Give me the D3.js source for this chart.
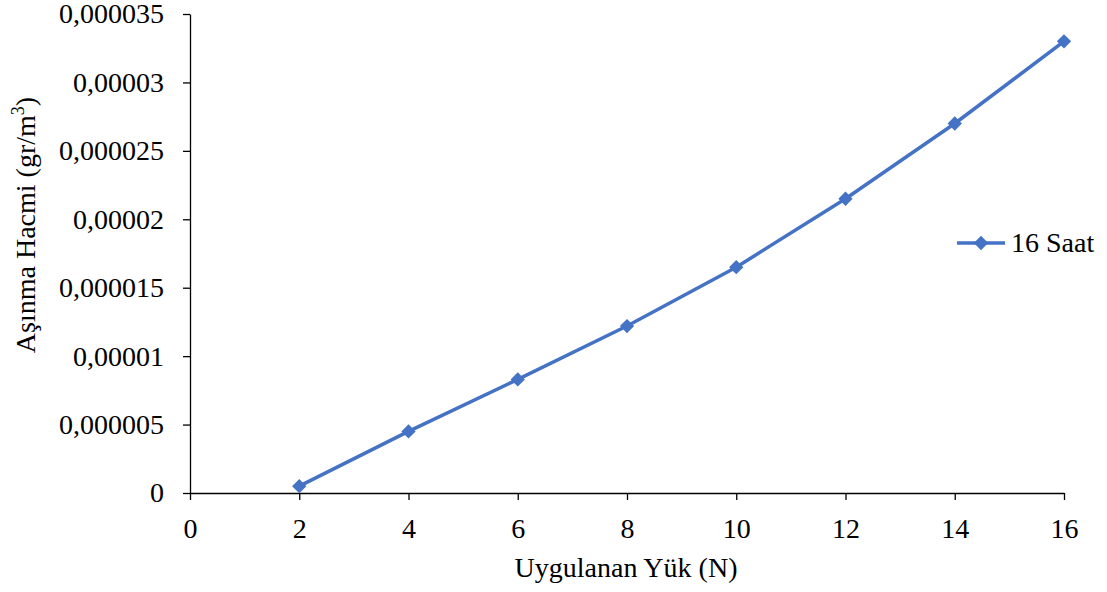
<!DOCTYPE html>
<html>
<head>
<meta charset="utf-8">
<script src="https://cdn.jsdelivr.net/npm/d3@7"></script>
<style>
  body { margin: 0; background: #fff; }
  .axis path, .axis line { stroke: #000; stroke-width: 1.3; }
</style>
</head>
<body>
<svg id="chart" width="1107" height="592"></svg>
<script>
// data
const loads = [2, 4, 6, 8, 10, 12, 14, 16];
const wearVolume = [0.0000005, 0.0000045, 0.0000083, 0.0000122, 0.0000165, 0.0000215, 0.000027, 0.000033];
const seriesName = '16 Saat';
const xTicks = [0, 2, 4, 6, 8, 10, 12, 14, 16];
const yTicks = [0, 0.000005, 0.00001, 0.000015, 0.00002, 0.000025, 0.00003, 0.000035];
const yTickLabels = ['0', '0,000005', '0,00001', '0,000015', '0,00002', '0,000025', '0,00003', '0,000035'];

const FONT = '"Liberation Serif", "Times New Roman", Times, "DejaVu Serif", serif';
const FS = 28;
const svg = d3.select('#chart').attr('font-family', FONT);
const margin = { top: 14, left: 190 };
const width = 1064 - 190, height = 493 - 14;
const color = '#4472C4';

const g = svg.append('g').attr('transform', `translate(${ margin.left }, ${ margin.top })`);

const x = d3.scaleLinear().domain([0, 16]).range([0, width]);
const y = d3.scaleLinear().domain([0, 0.000035]).range([height, 0]);

// axes
g.append('g').attr('class', 'axis').attr('transform', `translate(0, ${ height })`)
  .call(d3.axisBottom(x).tickValues(xTicks).tickSize(7).tickSizeOuter(0).tickPadding(17))
  .call(a => a.attr('font-family', FONT).attr('font-size', FS).selectAll('text').attr('dy', '0.75em'));

g.append('g').attr('class', 'axis')
  .call(d3.axisLeft(y).tickValues(yTicks).tickSize(7).tickSizeOuter(0).tickPadding(19)
    .tickFormat((d, i) => yTickLabels[i]))
  .call(a => a.attr('font-family', FONT).attr('font-size', FS));

// line
const line = d3.line().x((d, i) => x(loads[i])).y(d => y(d));
g.append('path').datum(wearVolume).attr('d', line)
  .attr('fill', 'none').attr('stroke', color).attr('stroke-width', 3.5).attr('stroke-linejoin', 'round');

const diamond = d3.symbol().type(d3.symbolDiamond2).size(130);
g.selectAll('.marker').data(wearVolume).enter().append('path')
  .attr('class', 'marker')
  .attr('d', diamond)
  .attr('transform', (d, i) => `translate(${ x(loads[i]) }, ${ y(d) })`)
  .attr('fill', color);

// axis titles
svg.append('text').attr('x', 626).attr('y', 577).attr('text-anchor', 'middle')
  .attr('font-size', FS).text('Uygulanan Yük (N)');

const yTitle = svg.append('text').attr('transform', 'translate(35, 225) rotate(-90)')
  .attr('text-anchor', 'middle').attr('font-size', FS);
yTitle.append('tspan').text('Aşınma Hacmi (gr/m');
yTitle.append('tspan').attr('dy', -11).attr('font-size', 18).text('3');
yTitle.append('tspan').attr('dy', 11).text(')');

// legend
const legend = svg.append('g').attr('transform', 'translate(957, 243)');
legend.append('path').attr('d', 'M0,0h48').attr('stroke', color).attr('stroke-width', 3.5);
legend.append('path').attr('d', diamond).attr('transform', 'translate(24, 0)').attr('fill', color);
legend.append('text').attr('x', 54).attr('y', 9).attr('font-size', FS).text(seriesName);
</script>
</body>
</html>
